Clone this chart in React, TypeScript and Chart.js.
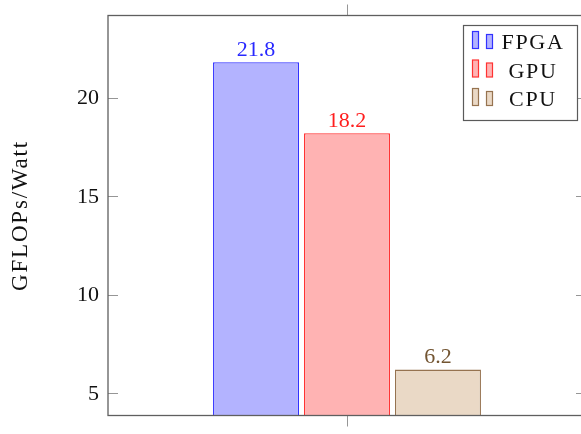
import React, { useEffect, useRef } from "react";
import { Chart, registerables } from "chart.js";

Chart.register(...registerables);

// Data
const categories = [""];
const seriesNames = ["FPGA", "GPU", "CPU"];
const fpgaValues = [21.8];
const gpuValues = [18.2];
const cpuValues = [6.2];
const yTickValues = [5, 10, 15, 20];
const yMin = 3.87;
const yMax = 24.17;
const yTitle = "GFLOPs/Watt";

// Styles
const fills = ["rgb(179,179,255)", "rgb(255,179,179)", "rgb(234,217,198)"];
const strokes = ["rgb(50,50,255)", "rgb(255,50,50)", "rgb(150,115,80)"];
const labelColors = ["rgb(40,40,255)", "rgb(255,30,30)", "rgb(115,85,50)"];
const serifFamily = "Liberation Serif";
const numFont = `22px ${serifFamily}`;
const frameColor = "rgb(95,95,95)";
const tickColor = "rgb(150,150,150)";

const decorPlugin = {
  id: "pgfDecor",
  afterDatasetsDraw(chart: any) {
    const { ctx, chartArea } = chart;
    const { left, right, top, bottom } = chartArea;
    const x = chart.scales.x;
    const y = chart.scales.y;
    ctx.save();

    // y ticks (inside, mirrored on the right)
    ctx.strokeStyle = tickColor;
    ctx.lineWidth = 1;
    yTickValues.forEach((v) => {
      const py = Math.round(y.getPixelForValue(v)) + 0.5;
      ctx.beginPath();
      ctx.moveTo(left, py);
      ctx.lineTo(left + 10, py);
      ctx.moveTo(right - 10, py);
      ctx.lineTo(right, py);
      ctx.stroke();
    });

    // x tick (outside, top and bottom)
    const cx = Math.round(x.getPixelForValue(0)) + 0.5;
    ctx.beginPath();
    ctx.moveTo(cx, top - 11);
    ctx.lineTo(cx, top);
    ctx.moveTo(cx, bottom);
    ctx.lineTo(cx, bottom + 11);
    ctx.stroke();

    // frame
    ctx.strokeStyle = frameColor;
    ctx.lineWidth = 1.3;
    ctx.strokeRect(left, top, right - left, bottom - top);

    // y tick labels
    ctx.fillStyle = "#111";
    ctx.font = numFont;
    ctx.textAlign = "right";
    ctx.textBaseline = "middle";
    yTickValues.forEach((v) => {
      ctx.fillText(String(v), left - 9, y.getPixelForValue(v) + 1);
    });

    // value labels above bars
    ctx.textAlign = "center";
    ctx.textBaseline = "alphabetic";
    chart.data.datasets.forEach((ds: any, i: number) => {
      const meta = chart.getDatasetMeta(i);
      meta.data.forEach((bar: any, j: number) => {
        ctx.fillStyle = labelColors[i];
        ctx.fillText(ds.data[j].toFixed(1), bar.x, bar.y - 6.5);
      });
    });

    // y axis title
    ctx.save();
    ctx.translate(27, (top + bottom) / 2);
    ctx.rotate(-Math.PI / 2);
    ctx.font = `23px ${serifFamily}`;
    (ctx as any).letterSpacing = "1.8px";
    ctx.fillStyle = "#111";
    ctx.textAlign = "center";
    ctx.fillText(yTitle, 0, 0);
    ctx.restore();

    // legend
    const bx = 463.5, by = 25.5, bw = 114, bh = 95;
    ctx.fillStyle = "#fff";
    ctx.fillRect(bx, by, bw, bh);
    ctx.strokeStyle = "rgb(90,90,90)";
    ctx.lineWidth = 1.2;
    ctx.strokeRect(bx, by, bw, bh);
    ctx.font = `22px ${serifFamily}`;
    (ctx as any).letterSpacing = "1.7px";
    ctx.textAlign = "center";
    chart.data.datasets.forEach((ds: any, i: number) => {
      const oy = i * 28.5;
      ctx.fillStyle = fills[i];
      ctx.strokeStyle = strokes[i];
      ctx.lineWidth = 1.2;
      ctx.fillRect(472.5, 31.5 + oy, 6, 17);
      ctx.strokeRect(472.5, 31.5 + oy, 6, 17);
      ctx.fillRect(486.5, 34.5 + oy, 6, 14);
      ctx.strokeRect(486.5, 34.5 + oy, 6, 14);
      ctx.fillStyle = "#111";
      ctx.fillText(ds.label, 533, 49 + oy);
    });
    (ctx as any).letterSpacing = "0px";

    ctx.restore();
  },
};

export default function App() {
  const canvasRef = useRef<HTMLCanvasElement | null>(null);

  useEffect(() => {
    const canvas = canvasRef.current;
    if (!canvas) return;
    let chart: Chart | null = null;
    let cancelled = false;
    const seriesValues = [fpgaValues, gpuValues, cpuValues];

    const build = () => {
      if (cancelled) return;
      chart = new Chart(canvas, {
        type: "bar",
        data: {
          labels: categories,
          datasets: seriesNames.map((name, i) => ({
            label: name,
            data: seriesValues[i],
            backgroundColor: fills[i],
            borderColor: strokes[i],
            borderWidth: 1.3,
            base: yMin,
            categoryPercentage: 0.571,
            barPercentage: 0.945,
          })),
        },
        options: {
          responsive: false,
          animation: false,
          devicePixelRatio: 1,
          layout: { padding: { left: 108, top: 15.5, right: 14, bottom: 18.5 } },
          plugins: {
            legend: { display: false },
            tooltip: { enabled: false },
            title: { display: false },
          },
          scales: {
            x: { display: false },
            y: { display: false, min: yMin, max: yMax },
          },
        },
        plugins: [decorPlugin],
      });
    };

    const fontsApi = (document as any).fonts;
    if (fontsApi && fontsApi.load) {
      fontsApi.load(numFont).then(build, build);
    } else {
      build();
    }

    return () => {
      cancelled = true;
      if (chart) chart.destroy();
    };
  }, []);

  return (
    <div
      style={{
        position: "fixed",
        left: 0,
        top: 0,
        width: 581,
        height: 434,
        overflow: "hidden",
        background: "#fff",
      }}
    >
      <canvas
        ref={canvasRef}
        width={600}
        height={434}
        style={{ width: 600, height: 434, display: "block" }}
      />
    </div>
  );
}
